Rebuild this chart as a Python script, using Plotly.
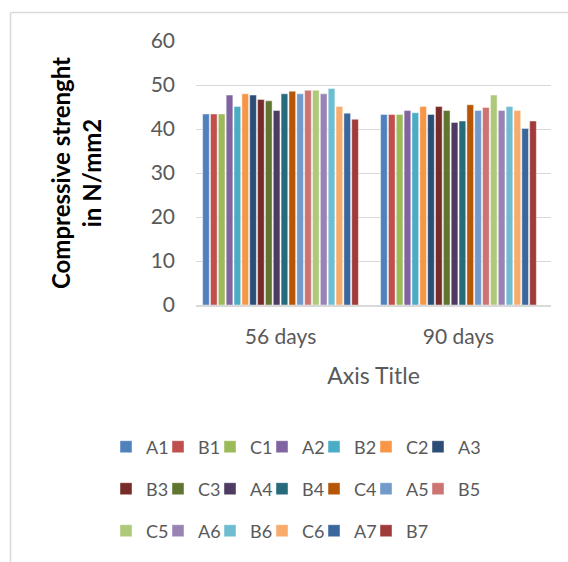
import plotly.graph_objects as go

# Compressive strength of mixes after 56 and 90 days of curing
ages = ["56 days", "90 days"]

mixes = ["A1", "B1", "C1", "A2", "B2", "C2", "A3",
         "B3", "C3", "A4", "B4", "C4", "A5", "B5",
         "C5", "A6", "B6", "C6", "A7", "B7"]

strength_56 = [43.4, 43.4, 43.4, 47.7, 45.1, 48.0, 47.7,
               46.7, 46.4, 44.2, 48.0, 48.6, 48.0, 48.8,
               48.8, 48.0, 49.2, 45.1, 43.6, 42.2]

strength_90 = [43.3, 43.3, 43.3, 44.2, 43.7, 45.1, 43.3,
               45.1, 44.2, 41.5, 41.8, 45.5, 44.2, 44.9,
               47.7, 44.2, 45.1, 44.2, 40.1, 41.8]

colors = ["#4F81BD", "#C0504D", "#9BBB59", "#8064A2", "#4BACC6", "#F79646", "#2C4D75",
          "#772C2A", "#5F7530", "#4D3B62", "#276A7C", "#B65708", "#729ACA", "#CD7371",
          "#AFC97A", "#9983B5", "#6FBDD1", "#F9AB6B", "#3A679C", "#9F3B38"]

# legend rows: 7, 7 and 6 entries
legend_rows = ["legend"] * 7 + ["legend2"] * 7 + ["legend3"] * 6
row_ends = {6, 13, 19}

FONT = "Lato"
GREY = "#595959"
GRID = "#D9D9D9"

fig = go.Figure()
for i, name in enumerate(mixes):
    fig.add_trace(go.Bar(
        x=ages,
        y=[strength_56[i], strength_90[i]],
        name=name,
        marker=dict(color=colors[i], line=dict(color="rgba(255,255,255,0.55)", width=0.8)),
        legend=legend_rows[i],
        # last entry of each row gets room for its label so nothing is clipped
        legendwidth=34 if i in row_ends else None,
    ))

W, H = 568, 562
L, R, T, B = 196, 17, 41, 257
pw, ph = W - L - R, H - T - B


def px(xp):
    return (xp - L) / pw


def py(yp):
    return (H - B - yp) / ph


legend_common = dict(
    orientation="h",
    xref="paper", yref="paper",
    x=px(106), xanchor="left", yanchor="middle",
    font=dict(family=FONT, size=18, color=GREY),
    entrywidth=7, entrywidthmode="pixels",
    bgcolor="rgba(0,0,0,0)",
    traceorder="normal",
)

fig.update_layout(
    width=W, height=H,
    margin=dict(l=L, r=R, t=T, b=B),
    paper_bgcolor="white", plot_bgcolor="white",
    barmode="group", bargap=0.118, bargroupgap=0.15,
    font=dict(family=FONT, color=GREY),
    legend=dict(legend_common, y=py(447)),
    legend2=dict(legend_common, y=py(489)),
    legend3=dict(legend_common, y=py(531)),
    xaxis=dict(
        range=[-0.475, 1.52],
        showline=True, linecolor=GRID, linewidth=1.5,
        showgrid=False, ticks="",
        tickfont=dict(family=FONT, size=21, color=GREY),
        ticklabelstandoff=12,
        title=dict(text="Axis Title", standoff=21,
                   font=dict(family=FONT, size=23, color=GREY)),
    ),
    yaxis=dict(
        range=[0, 60], dtick=10,
        showgrid=True, gridcolor=GRID, gridwidth=1.3,
        zeroline=False, showline=False, ticks="",
        tickfont=dict(family=FONT, size=21, color=GREY),
        ticklabelstandoff=20,
        title=dict(text="<b>Compressive strenght<br>in N/mm2</b>", standoff=42,
                   font=dict(family=FONT, size=24, color="black")),
    ),
    shapes=[
        dict(type="line", xref="paper", yref="paper",
             x0=px(10.5), x1=px(10.5), y0=py(12.5), y1=py(H),
             line=dict(color=GRID, width=1.5)),
        dict(type="line", xref="paper", yref="paper",
             x0=px(10.5), x1=px(W), y0=py(12.5), y1=py(12.5),
             line=dict(color=GRID, width=1.5)),
    ],
)

fig.write_html("out.html")
